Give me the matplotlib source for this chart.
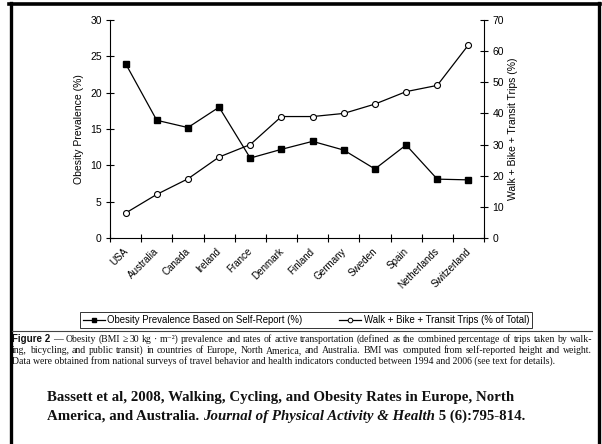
import matplotlib
matplotlib.use("Agg")
import matplotlib.pyplot as plt
import matplotlib.transforms as mtransforms
from matplotlib.lines import Line2D

countries = ["USA", "Australia", "Canada", "Ireland", "France", "Denmark",
             "Finland", "Germany", "Sweden", "Spain", "Netherlands", "Switzerland"]
obesity = [24.0, 16.2, 15.2, 18.0, 11.0, 12.2, 13.3, 12.1, 9.5, 12.8, 8.1, 8.0]
active_trips = [8, 14, 19, 26, 30, 39, 39, 40, 43, 47, 49, 62]

W, H = 602, 444
SANS = ["Liberation Sans", "DejaVu Sans"]
SERIF = ["Liberation Serif", "DejaVu Serif"]


def fx(px):
    return px / W


def fy(py):
    return 1 - py / H


fig = plt.figure(figsize=(W / 100, H / 100), dpi=100)
fig.patch.set_facecolor("white")

ax = fig.add_axes([fx(110), fy(238), fx(484) - fx(110), fy(20) - fy(238)])
ax2 = ax.twinx()

xs = [i + 0.5 for i in range(len(countries))]
ax.plot(xs, obesity, color="black", lw=0.9, marker="s", ms=4.3,
        mfc="black", mec="black", zorder=3)
ax2.plot(xs, active_trips, color="black", lw=0.9, marker="o", ms=4.3,
         mfc="white", mec="black", mew=0.8, zorder=3)

ax.set_xlim(0, len(countries))
ax.set_ylim(0, 30)
ax2.set_ylim(0, 70)
ax.set_yticks(range(0, 31, 5))
ax2.set_yticks(range(0, 71, 10))

# integer ticks on the axis, country names sit between them
ax.set_xticks(range(0, len(countries) + 1))
ax.set_xticklabels([])
ax.set_xticks(xs, minor=True)
ax.set_xticklabels(countries, minor=True, rotation=45, ha="right",
                   rotation_mode="anchor", fontsize=7.1, family=SANS)
ax.tick_params(axis="x", which="minor", length=0, pad=6)
shift = mtransforms.ScaledTranslation(-3 / 100, 0, fig.dpi_scale_trans)
for lab in ax.get_xticklabels(minor=True):
    lab.set_transform(lab.get_transform() + shift)

for a in (ax, ax2):
    a.spines["top"].set_visible(False)
    for s in a.spines.values():
        s.set_linewidth(0.8)
    a.tick_params(axis="both", which="major", direction="inout",
                  length=6, width=0.8, labelsize=7.5, pad=3)
ax.spines["right"].set_visible(False)
ax2.spines["left"].set_visible(False)
ax2.spines["bottom"].set_visible(False)
for lab in ax.get_yticklabels() + ax2.get_yticklabels():
    lab.set_family(SANS)

ax.set_ylabel("Obesity Prevalence (%)", fontsize=7.5, family=SANS, labelpad=4)
ax2.set_ylabel("Walk + Bike + Transit Trips (%)", fontsize=7.5, family=SANS,
               labelpad=3)

# legend in a box below the chart
handles = [
    Line2D([], [], color="black", lw=0.9, marker="s", ms=3.3, mfc="black"),
    Line2D([], [], color="black", lw=0.9, marker="o", ms=3.3, mfc="white",
           mew=0.7),
]
leg = fig.legend(handles,
                 ["Obesity Prevalence Based on Self-Report (%)",
                  "Walk + Bike + Transit Trips (% of Total)"],
                 loc="center", bbox_to_anchor=(fx(306), fy(320)), ncol=2,
                 frameon=True, fancybox=False, handlelength=2.3,
                 handletextpad=0.3, columnspacing=3.8, borderpad=0.3,
                 borderaxespad=0, prop={"family": SANS, "size": 6.9})
leg.get_frame().set_edgecolor("black")
leg.get_frame().set_linewidth(0.7)

# page frame and rule above the caption
fig.add_artist(Line2D([fx(9), fx(600)], [fy(4.5), fy(4.5)], color="black", lw=2.6))
fig.add_artist(Line2D([fx(10.5), fx(10.5)], [fy(3), 0], color="black", lw=2.4))
fig.add_artist(Line2D([fx(598.5), fx(598.5)], [fy(3), 0], color="black", lw=2.4))
fig.add_artist(Line2D([fx(12), fx(592)], [fy(331), fy(331)], color="#444444", lw=0.8))

renderer = fig.canvas.get_renderer()


def text_width(t):
    return t.get_window_extent(renderer).width


def justified(words, x0, x1, y, **kw):
    objs = [fig.text(0, fy(y), w, va="baseline", **kw) for w in words]
    widths = [text_width(o) for o in objs]
    gap = (x1 - x0 - sum(widths)) / max(len(words) - 1, 1)
    x = x0
    for o, w in zip(objs, widths):
        o.set_x(fx(x))
        x += w + gap


cap = dict(family=SERIF, fontsize=7.0, color="#111111")
lead = fig.text(fx(12), fy(342), "Figure 2", va="baseline", family=SANS,
                fontsize=7.0, fontweight="bold", color="#111111")
lead_w = text_width(lead)
justified(("\u2014 Obesity (BMI \u2265 30 kg \u00b7 m\u207b\u00b2) prevalence and rates "
           "of active transportation (defined as the combined percentage of "
           "trips taken by walk-").split(" "),
          12 + lead_w + 3, 592, 342, **cap)
justified(("ing, bicycling, and public transit) in countries of Europe, North "
           "America, and Australia. BMI was computed from self-reported height "
           "and weight.").split(" "),
          12, 592, 353, **cap)
fig.text(fx(12), fy(364), "Data were obtained from national surveys of travel "
         "behavior and health indicators conducted between 1994 and 2006 "
         "(see text for details).", va="baseline", **cap)

# citation, sized so the first line runs from x=47 to about x=512
cite = dict(family=SERIF, fontsize=12, fontweight="bold", color="#111111",
            va="baseline")
first = fig.text(fx(47), fy(401), "Bassett et al, 2008, Walking, Cycling, and "
                 "Obesity Rates in Europe, North", **cite)
cite["fontsize"] = 12 * 465 / text_width(first)
first.set_fontsize(cite["fontsize"])
parts = [("America, and Australia. ", "normal"),
         ("Journal of Physical Activity & Health", "italic"),
         (" 5 (6):795-814.", "normal")]
x = 47
for s, style in parts:
    t = fig.text(fx(x), fy(420), s, style=style, **cite)
    x += text_width(t)

fig.savefig("out.png", dpi=100, facecolor="white")
